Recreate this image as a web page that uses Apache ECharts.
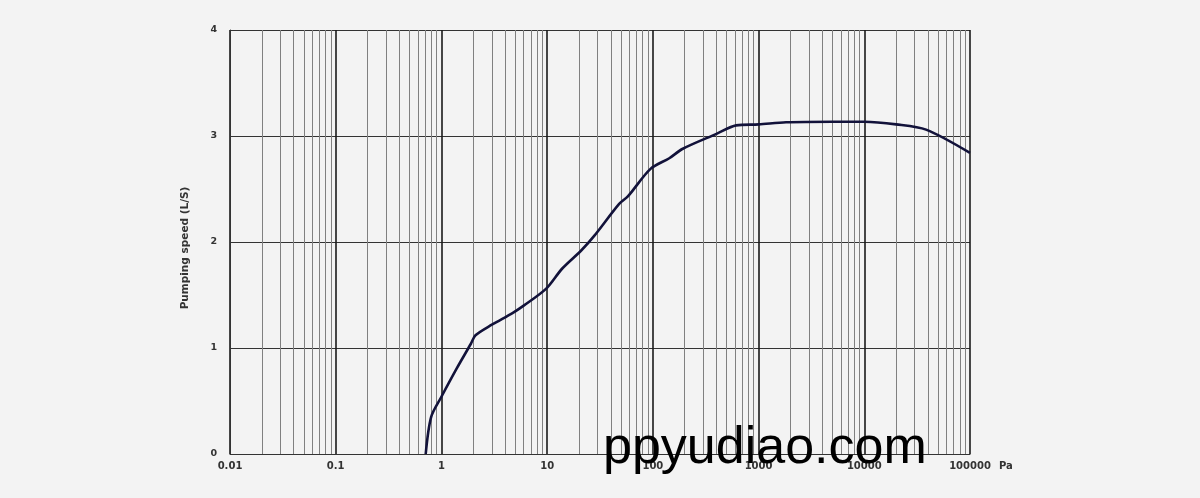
<!DOCTYPE html>
<html>
<head>
<meta charset="utf-8">
<script src="https://cdn.jsdelivr.net/npm/echarts@6/dist/echarts.min.js"></script>
<style>
html,body{margin:0;padding:0;background:#f3f3f3;}
#c{width:1200px;height:498px;}
</style>
</head>
<body>
<div id="c"></div>
<script>
// Pressure (Pa) and pumping speed (L/S)
const pressure = [0.71, 0.8, 1.0, 1.4, 1.9, 2.1, 3.0, 4.7, 6, 9.8, 13.9, 21, 28, 48, 58, 95, 143, 192, 400, 614, 1000, 1820, 5000, 10000, 20000, 38400, 100000];
const speed    = [0.0, 0.35, 0.54, 0.81, 1.04, 1.12, 1.22, 1.33, 1.40, 1.56, 1.75, 1.92, 2.06, 2.36, 2.43, 2.69, 2.79, 2.88, 3.02, 3.10, 3.11, 3.13, 3.135, 3.135, 3.11, 3.06, 2.84];
const decades = [0.01, 0.1, 1, 10, 100, 1000, 10000];
const multipliers = [2, 3, 4, 5, 6, 7, 8, 9];
const yTicks = ['0', '1', '2', '3', '4'];
const xUnit = 'Pa';
const yName = 'Pumping speed (L/S)';
const watermark = 'ppyudiao.com';

const minorLines = [];
decades.forEach(d => multipliers.forEach(m => minorLines.push({xAxis: +(d * m).toPrecision(6)})));

const chart = echarts.init(document.getElementById('c'), null, {renderer: 'canvas'});
chart.setOption({
  backgroundColor: '#f3f3f3',
  animation: false,
  grid: {left: 230, right: 230, top: 30, bottom: 44},
  xAxis: {
    type: 'log', logBase: 10, min: 0.01, max: 100000,
    name: xUnit, nameLocation: 'end', nameGap: 29,
    nameTextStyle: {fontFamily: 'DejaVu Sans', fontSize: 10, fontWeight: 'bold', color: '#333', verticalAlign: 'top', padding: [7, 0, 0, 0]},
    axisLine: {show: true, lineStyle: {color: '#333', width: 1}},
    axisTick: {show: false},
    axisLabel: {
      fontFamily: 'DejaVu Sans', fontSize: 10, fontWeight: 'bold', color: '#333', margin: 7,
      formatter: v => String(+v.toPrecision(6))
    },
    splitLine: {show: true, lineStyle: {color: '#1a1a1a', width: 1.6}}
  },
  yAxis: {
    type: 'value', min: 0, max: 4, interval: 1,
    name: yName, nameLocation: 'middle', nameRotate: 90, nameGap: 39,
    nameTextStyle: {fontFamily: 'DejaVu Sans', fontSize: 10.5, fontWeight: 'bold', color: '#333', padding: [0, 12, 0, 0]},
    axisLine: {show: true, lineStyle: {color: '#333', width: 1}},
    axisTick: {show: false},
    axisLabel: {
      fontFamily: 'DejaVu Sans', fontSize: 9.5, fontWeight: 'bold', color: '#333', margin: 13,
      formatter: (v) => yTicks[Math.round(v)]
    },
    splitLine: {show: true, lineStyle: {color: '#333', width: 1}}
  },
  series: [{
    type: 'line',
    data: pressure.map((p, i) => [p, speed[i]]),
    showSymbol: false,
    smooth: 0.3,
    lineStyle: {color: '#12123a', width: 2.6},
    z: 5,
    markLine: {
      silent: true,
      symbol: ['none', 'none'],
      label: {show: false},
      lineStyle: {color: '#808080', width: 1, type: 'solid'},
      emphasis: {disabled: true},
      data: minorLines,
      z: 1
    }
  }],
  graphic: [{
    type: 'text',
    left: 603, top: 423,
    z: 100,
    style: {text: watermark, fontFamily: 'Liberation Sans', fontSize: 52, fill: '#000'}
  }]
});
</script>
</body>
</html>
